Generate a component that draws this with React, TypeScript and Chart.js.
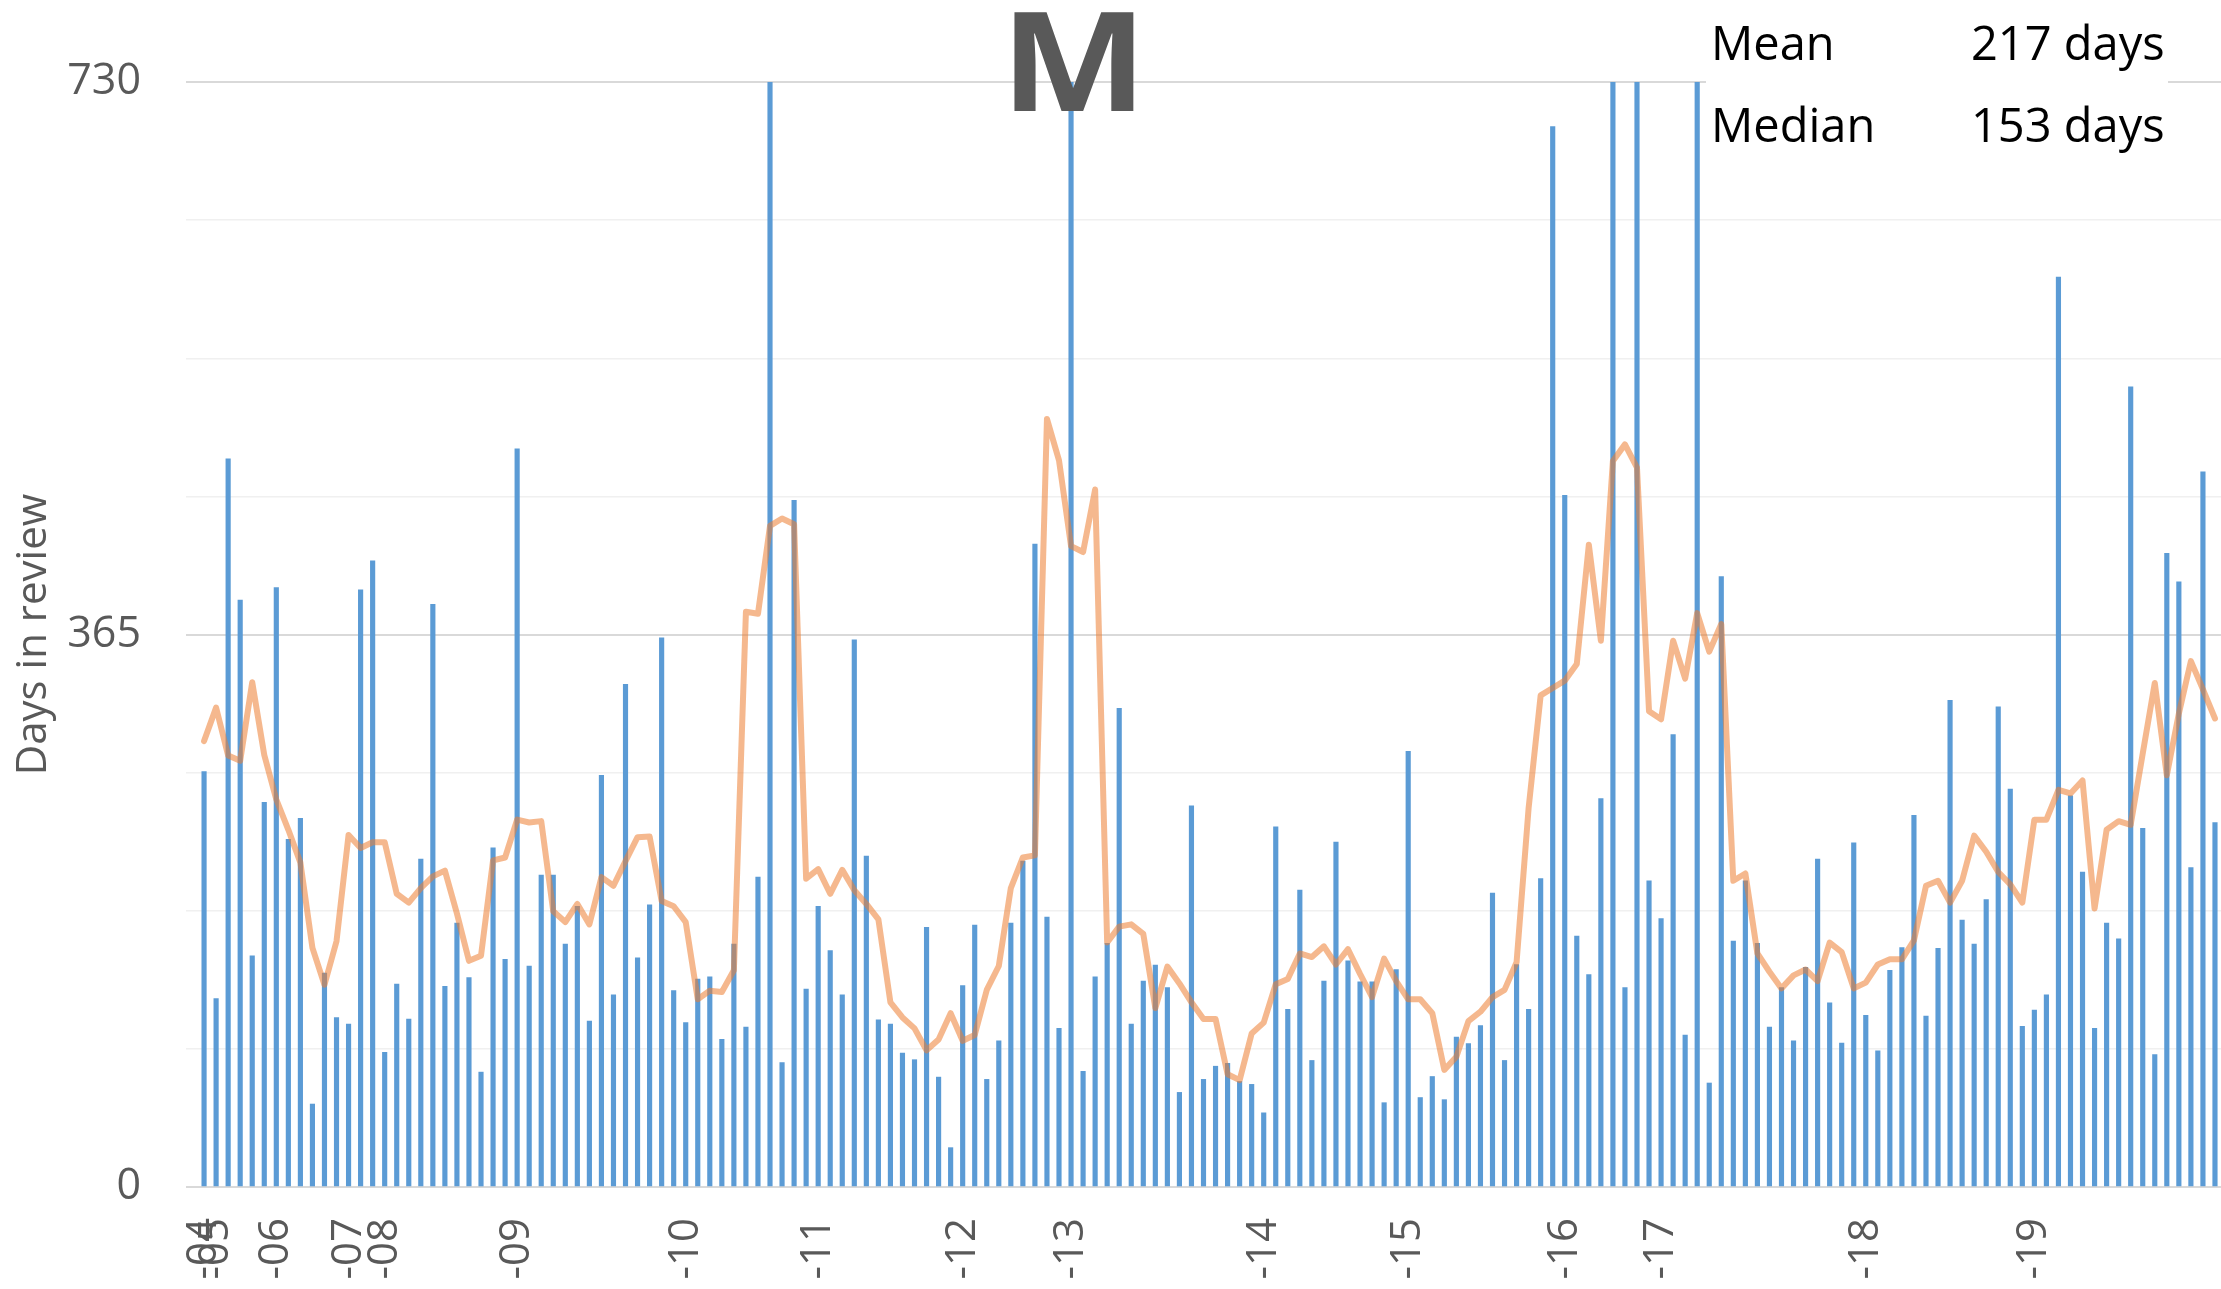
import { useEffect, useRef } from 'react';
import { Chart, registerables } from 'chart.js';

Chart.register(...registerables);

// ---- data ----
const reviewDays: number[] = [
  274.4, 124.5, 481, 387.8, 152.8, 254.2, 396, 229.7, 243.6, 54.8,
  141.3, 112, 107.6, 394.5, 413.7, 88.9, 134, 111, 216.7, 385,
  132.6, 174.4, 138.4, 75.9, 224, 150.4, 487.7, 146, 206, 206,
  160.5, 185.5, 109.6, 272, 126.9, 332, 151.4, 186.4, 362.8, 129.7,
  108.6, 137.4, 138.9, 97.5, 160.5, 105.7, 204.7, 730, 82.2, 453.6,
  130.7, 185.5, 156.2, 126.9, 361.4, 218.6, 110.5, 107.6, 88.4, 84.1,
  171.6, 72.6, 26, 133.1, 173, 71.1, 96.6, 174.4, 215.3, 424.8,
  178.3, 104.8, 730, 76.4, 138.9, 161, 316.2, 107.6, 136, 146.6,
  131.7, 62.5, 251.8, 71.1, 79.8, 81.7, 69.7, 67.8, 49, 237.9,
  117.3, 196.1, 83.6, 136, 227.8, 149.4, 135.5, 135.5, 55.7, 143.7,
  287.8, 59.1, 73, 57.7, 99, 94.7, 106.7, 194.1, 83.6, 147,
  117.3, 203.7, 700.6, 457, 165.8, 140.3, 256.6, 730, 131.7, 730,
  202.3, 177.3, 298.9, 100.4, 730, 68.7, 403.2, 162.4, 202.3, 161,
  105.7, 131.7, 96.6, 145.1, 216.7, 121.6, 95.1, 227.3, 113.4, 89.9,
  143.2, 158.1, 245.6, 112.9, 157.6, 321.5, 176.4, 160.5, 189.8, 317.2,
  262.9, 106.2, 116.8, 126.9, 601.2, 258.5, 208.1, 104.8, 174.4, 163.9,
  528.6, 236.9, 87.5, 418.6, 399.8, 211, 472.4, 240.8,
];

const movingAverage: number[] = [
  294.6, 316.7, 285, 281.6, 333.5, 285.4, 256, 236, 214.3, 158,
  133.6, 162.4, 232.6, 224, 227.8, 227.8, 193.7, 187.9, 197.5, 205.2,
  209, 180.7, 149.4, 152.8, 215.8, 217.7, 242.7, 240.8, 241.7, 182.1,
  175, 187, 173.5, 204.7, 199, 215.3, 231.1, 231.6, 188.9, 185.5,
  175, 124, 129.7, 128.8, 143.2, 380, 378.7, 436.8, 441.6, 437.8,
  203.7, 210, 193.7, 209.5, 196, 187, 176.8, 122, 112, 104.8,
  90.3, 97.5, 114.8, 96.6, 100.4, 130.2, 146, 197.5, 217.7, 219.1,
  507.4, 480, 423.4, 419.5, 460.8, 161.5, 172, 173.5, 167.2, 118.2,
  145.6, 134.5, 122, 111, 111, 74.5, 70.6, 101.4, 108.6, 134,
  137.4, 154.3, 151.9, 159, 147, 157.1, 140.8, 125.4, 150.9, 136,
  124, 124, 114.8, 77.4, 86, 109.6, 115.8, 125.4, 130.2, 148.5,
  250.4, 324.8, 329.7, 334.5, 345.5, 424.3, 360.9, 479.6, 490.6, 475.3,
  314.3, 309, 360.9, 335.9, 379.1, 353.7, 371.9, 202.3, 207.1, 154.3,
  142.2, 131.2, 139.8, 143.7, 136, 161.5, 155.2, 131.2, 135, 147,
  150.4, 150.4, 162.9, 199, 202.3, 187.9, 202.3, 232.1, 221.5, 208.1,
  199.9, 187.9, 242.7, 242.7, 262.4, 260, 268.6, 184, 236, 241.7,
  239.3, 286.4, 333, 272, 312.8, 347.4, 328.7, 309.5,
];

const yearLabels: string[] = ['-04', '-05', '-06', '-07', '-08', '-09', '-10', '-11', '-12', '-13', '-14', '-15', '-16', '-17', '-18', '-19'];
const yearLabelSlots: number[] = [1, 2, 7, 13, 16, 27, 41, 52, 64, 73, 89, 101, 114, 122, 139, 153];
const yAxisLabelValues: number[] = [0, 365, 730];
const yGridStep = 91.25;
const yMax = 730;
const summaryLabels: string[] = ['Mean', 'Median'];
const summaryValues: string[] = ['217 days', '153 days'];
const chartTitle = 'M';
const yAxisTitle = 'Days in review';

// one leading empty slot, then one slot per bar
const categories: string[] = Array.from({ length: reviewDays.length + 1 }, () => '');
yearLabelSlots.forEach((slot, i) => {
  categories[slot] = yearLabels[i];
});
const barData: (number | null)[] = [null, ...reviewDays];
const lineData: (number | null)[] = [null, ...movingAverage];

const FAMILY = '"Open Sans", sans-serif';
const GRAY = '#595959';
const W = 2221;
const H = 1289;

const overlayPlugin = {
  id: 'overlayText',
  afterDraw(chart: any) {
    const ctx: CanvasRenderingContext2D = chart.ctx;
    ctx.save();
    // summary box (white background hides the top gridline)
    ctx.fillStyle = '#ffffff';
    ctx.fillRect(1706, 0, 462, 165);
    ctx.fillStyle = '#000000';
    ctx.font = `47px ${FAMILY}`;
    ctx.textAlign = 'left';
    ctx.textBaseline = 'alphabetic';
    summaryLabels.forEach((label, i) => {
      const y = 60 + i * 82;
      ctx.fillText(label, 1711, y);
      ctx.fillText(summaryValues[i], 1971, y);
    });
    // big title letter
    ctx.fillStyle = GRAY;
    ctx.font = `bold 139px ${FAMILY}`;
    ctx.textAlign = 'center';
    ctx.translate(1074, 111);
    ctx.scale(1.12, 1);
    ctx.fillText(chartTitle, 0, 0);
    ctx.restore();
  },
};

export default function App() {
  const canvasRef = useRef<HTMLCanvasElement | null>(null);

  useEffect(() => {
    if (!canvasRef.current) return;
    const chart = new Chart(canvasRef.current, {
      type: 'bar',
      data: {
        labels: categories,
        datasets: [
          {
            type: 'line',
            data: lineData,
            borderColor: 'rgba(237,125,49,0.55)',
            borderWidth: 6,
            pointRadius: 0,
            tension: 0,
            borderJoinStyle: 'round',
            borderCapStyle: 'round',
            order: 0,
          } as any,
          {
            type: 'bar',
            data: barData,
            backgroundColor: '#5B9BD5',
            barThickness: 4.5,
            order: 1,
          } as any,
        ],
      },
      options: {
        animation: false,
        responsive: false,
        devicePixelRatio: 1,
        layout: { padding: { top: 82, left: 0, right: 0, bottom: 0 } },
        plugins: {
          legend: { display: false },
          tooltip: { enabled: false },
          title: { display: false },
        },
        scales: {
          x: {
            offset: true,
            grid: { display: false, drawTicks: false },
            border: { display: false },
            ticks: {
              autoSkip: false,
              minRotation: 90,
              maxRotation: 90,
              padding: 31,
              color: GRAY,
              font: { family: FAMILY, size: 42 },
            },
            afterFit: (scale: any) => {
              scale.height = 102;
              scale.paddingLeft = 0;
              scale.paddingRight = 0;
            },
          },
          y: {
            min: 0,
            max: yMax,
            ticks: {
              stepSize: yGridStep,
              autoSkip: false,
              padding: 45,
              color: GRAY,
              font: { family: FAMILY, size: 43 },
              callback: (v: any) => (yAxisLabelValues.includes(Number(v)) ? String(v) : ''),
            },
            grid: {
              drawTicks: false,
              color: (c: any) =>
                c.tick && yAxisLabelValues.includes(c.tick.value) ? '#D9D9D9' : '#F0F0F0',
              lineWidth: (c: any) =>
                c.tick && yAxisLabelValues.includes(c.tick.value) ? 2 : 1.5,
            },
            border: { display: false },
            title: {
              display: true,
              text: yAxisTitle,
              color: GRAY,
              font: { family: FAMILY, size: 42 },
              padding: { top: 9, bottom: 0 },
            },
            afterFit: (scale: any) => {
              scale.width = 186;
              scale.paddingTop = 0;
              scale.paddingBottom = 0;
            },
          },
        },
      } as any,
      plugins: [overlayPlugin],
    });
    return () => chart.destroy();
  }, []);

  return (
    <div style={{ position: 'fixed', left: 0, top: 0, width: W, height: H, background: '#fff' }}>
      <canvas ref={canvasRef} width={W} height={H} style={{ width: W, height: H, display: 'block' }} />
    </div>
  );
}
